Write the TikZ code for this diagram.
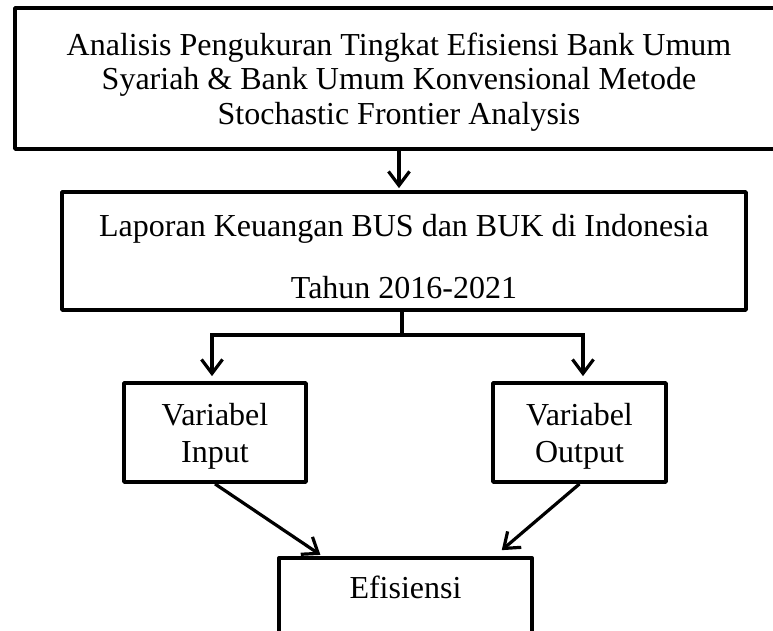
\documentclass[tikz,border=0pt]{standalone}
\usepackage{fontspec}
\setmainfont{Liberation Serif}
\usetikzlibrary{arrows.meta}

\tikzset{
  box/.style={rectangle,draw,line width=3.8pt,line join=round,align=center,inner sep=0pt,text depth=0pt},
  arr/.style={-{Straight Barb[length=14pt,width=21pt,line width=3.2pt]},line width=3.2pt},
  ln/.style={line width=3.2pt}
}

\begin{document}
\begin{tikzpicture}[x=1pt,y=-1pt,font=\fontsize{32}{34.5}\selectfont]
\useasboundingbox (0,0) rectangle (773,631);
\clip (0,0) rectangle (773,631);

\node[box,minimum width=768,minimum height=141] (judul) at (399,78.5) {Analisis Pengukuran Tingkat Efisiensi Bank Umum\\Syariah \& Bank Umum Konvensional Metode\\Stochastic Frontier Analysis};
\node[box,minimum width=684,minimum height=118] (lap) at (404,251) {\rule{0pt}{33pt}Laporan Keuangan BUS dan BUK di Indonesia\\[27pt]Tahun 2016-2021};
\node[box,minimum width=182,minimum height=99,font=\fontsize{32}{37}\selectfont] (inp) at (215,432.5) {Variabel\\Input};
\node[box,minimum width=173,minimum height=99,font=\fontsize{32}{37}\selectfont] (outp) at (579.5,432.5) {Variabel\\Output};
\node[box,minimum width=253,minimum height=110,anchor=north,inner ysep=18pt,text depth=60pt] (eff) at (405.5,556) {Efisiensi};

\coordinate (cab) at (402,335);

\draw[arr,shorten >=2pt] (judul.south) -- (judul.south |- lap.north);
\draw[arr,shorten >=5pt] (lap.south -| cab) -- (cab) -| ([xshift=-3pt]inp.north);
\draw[arr,shorten >=5pt] (lap.south -| cab) -- (cab) -| ([xshift=3.5pt]outp.north);
\draw[arr,shorten >=2pt] (inp.south) -- ([xshift=45pt]eff.north west);
\draw[arr,shorten >=9pt] (outp.south) -- ([xshift=-39pt]eff.north east);
\end{tikzpicture}
\end{document}
